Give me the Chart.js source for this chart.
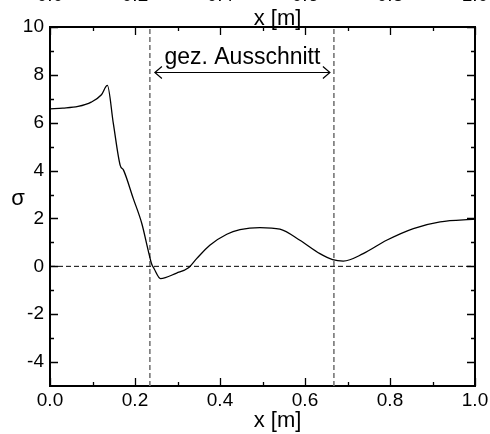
<!DOCTYPE html>
<html>
<head>
<meta charset="utf-8">
<script src="https://cdn.jsdelivr.net/npm/chart.js@4/dist/chart.umd.min.js"></script>
<style>
  html, body { margin: 0; padding: 0; background: #fff; overflow: hidden; }
  #wrap { position: relative; width: 490px; height: 434px; }
</style>
</head>
<body>
<div id="wrap"><canvas id="chart" width="490" height="434"></canvas></div>
<script>
// stress curve
const xPos = [0, 0.03, 0.066, 0.097, 0.121, 0.135, 0.149, 0.165, 0.173, 0.196, 0.216, 0.231, 0.239, 0.245, 0.26,
  0.298, 0.325, 0.345, 0.376, 0.416, 0.447, 0.494, 0.541, 0.588, 0.635, 0.665, 0.69, 0.737, 0.792, 0.855, 0.918, 1.0];
const sigma = [6.58, 6.61, 6.68, 6.86, 7.17, 7.56, 5.97, 4.23, 4.02, 2.83, 1.79, 0.67, 0.11, -0.1, -0.51,
  -0.28, -0.07, 0.32, 0.88, 1.34, 1.53, 1.62, 1.55, 1.09, 0.53, 0.28, 0.22, 0.53, 1.09, 1.58, 1.86, 1.97];

const xTicks = [0, 0.2, 0.4, 0.6, 0.8, 1.0];
const xMinor = [0.1, 0.3, 0.5, 0.7, 0.9];
const yTicks = [-4, -2, 0, 2, 4, 6, 8, 10];
const yMinor = [-3, -1, 1, 3, 5, 7, 9];

const cutX = [0.235, 0.668];
const arrowY = 8.1;
const cutLabel = "gez. Ausschnitt";
const xTitle = "x [m]";
const yTitle = "σ";

const FONT = "'Liberation Sans', Arial, sans-serif";

const frameTicks = {
  id: "frameTicks",
  afterDatasetsDraw(chart) {
    const { ctx, chartArea: a, scales } = chart;
    const sx = scales.x, sy = scales.y;
    ctx.save();
    ctx.strokeStyle = "#000";
    ctx.lineWidth = 1.3;
    ctx.beginPath();
    const tx = (v, len) => {
      const p = Math.round(sx.getPixelForValue(v)) + 0.5;
      ctx.moveTo(p, a.bottom); ctx.lineTo(p, a.bottom - len);
      ctx.moveTo(p, a.top); ctx.lineTo(p, a.top + len);
    };
    const ty = (v, len) => {
      const p = Math.round(sy.getPixelForValue(v)) + 0.5;
      ctx.moveTo(a.left, p); ctx.lineTo(a.left + len, p);
      ctx.moveTo(a.right, p); ctx.lineTo(a.right - len, p);
    };
    xTicks.forEach((v) => tx(v, 8));
    xMinor.forEach((v) => tx(v, 4));
    yTicks.forEach((v) => ty(v, 8));
    yMinor.forEach((v) => ty(v, 4));
    ctx.stroke();

    // double arrow between the two cut lines
    const x1 = sx.getPixelForValue(cutX[0]) + 5, x2 = sx.getPixelForValue(cutX[1]) - 4;
    const y = Math.round(sy.getPixelForValue(arrowY)) + 0.5;
    ctx.lineWidth = 1.2;
    ctx.beginPath();
    ctx.moveTo(x1, y); ctx.lineTo(x2, y);
    ctx.moveTo(x1 + 7, y - 6); ctx.lineTo(x1, y); ctx.lineTo(x1 + 7, y + 6);
    ctx.moveTo(x2 - 7, y - 6); ctx.lineTo(x2, y); ctx.lineTo(x2 - 7, y + 6);
    ctx.stroke();

    ctx.fillStyle = "#000";
    ctx.textAlign = "center";
    ctx.textBaseline = "alphabetic";
    ctx.font = "23px " + FONT;
    ctx.fillText(cutLabel, (x1 + x2) / 2, y - 9);

    // axis titles
    ctx.font = "22px " + FONT;
    ctx.textBaseline = "middle";
    const midX = (a.left + a.right) / 2 + 15;
    ctx.fillText(xTitle, midX, 421);
    ctx.fillText(xTitle, midX, 19);
    ctx.textBaseline = "alphabetic";
    ctx.fillText(yTitle, 18, 205);
    ctx.restore();
  },
};

const tickFont = { family: FONT, size: 19 };
const noGrid = { display: false, drawTicks: false };
const border = { display: true, color: "#000", width: 2 };
const noPad = (s) => { s.paddingLeft = 0; s.paddingRight = 0; s.paddingTop = 0; s.paddingBottom = 0; };

new Chart(document.getElementById("chart"), {
  type: "line",
  data: {
    datasets: [
      {
        data: xPos.map((x, i) => ({ x, y: sigma[i] })),
        borderColor: "#000", borderWidth: 1.3, pointRadius: 0,
        cubicInterpolationMode: "monotone",
      },
      {
        data: [{ x: 0, y: 0 }, { x: 1, y: 0 }],
        borderColor: "#000", borderWidth: 1, borderDash: [5, 3], pointRadius: 0,
      },
      ...cutX.map((c) => ({
        data: [{ x: c, y: -5 }, { x: c, y: 10 }],
        borderColor: "#777", borderWidth: 1.6, borderDash: [5, 3], pointRadius: 0,
      })),
    ],
  },
  options: {
    responsive: false,
    animation: false,
    layout: { padding: 0 },
    plugins: { legend: { display: false }, tooltip: { enabled: false } },
    scales: {
      x: {
        type: "linear", position: "bottom", min: 0, max: 1,
        grid: noGrid, border,
        afterBuildTicks: (s) => { s.ticks = xTicks.map((v) => ({ value: v })); },
        afterFit: (s) => { s.height = 48; noPad(s); },
        ticks: { font: tickFont, color: "#000", padding: 3, maxRotation: 0, callback: (v) => v.toFixed(1) },
      },
      xTop: {
        type: "linear", position: "top", min: 0, max: 1,
        grid: noGrid, border,
        afterBuildTicks: (s) => { s.ticks = xTicks.map((v) => ({ value: v })); },
        afterFit: (s) => { s.height = 27; noPad(s); },
        ticks: { font: tickFont, color: "#000", padding: 20, maxRotation: 0, callback: (v) => v.toFixed(1) },
      },
      y: {
        type: "linear", position: "left", min: -5, max: 10,
        grid: noGrid, border,
        afterBuildTicks: (s) => { s.ticks = yTicks.map((v) => ({ value: v })); },
        afterFit: (s) => { s.width = 50; noPad(s); },
        ticks: { font: tickFont, color: "#000", padding: 6, callback: (v) => String(v) },
      },
      yRight: {
        type: "linear", position: "right", min: -5, max: 10,
        grid: noGrid, border,
        afterFit: (s) => { s.width = 15; noPad(s); },
        ticks: { display: false },
      },
    },
  },
  plugins: [frameTicks],
});
</script>
</body>
</html>
